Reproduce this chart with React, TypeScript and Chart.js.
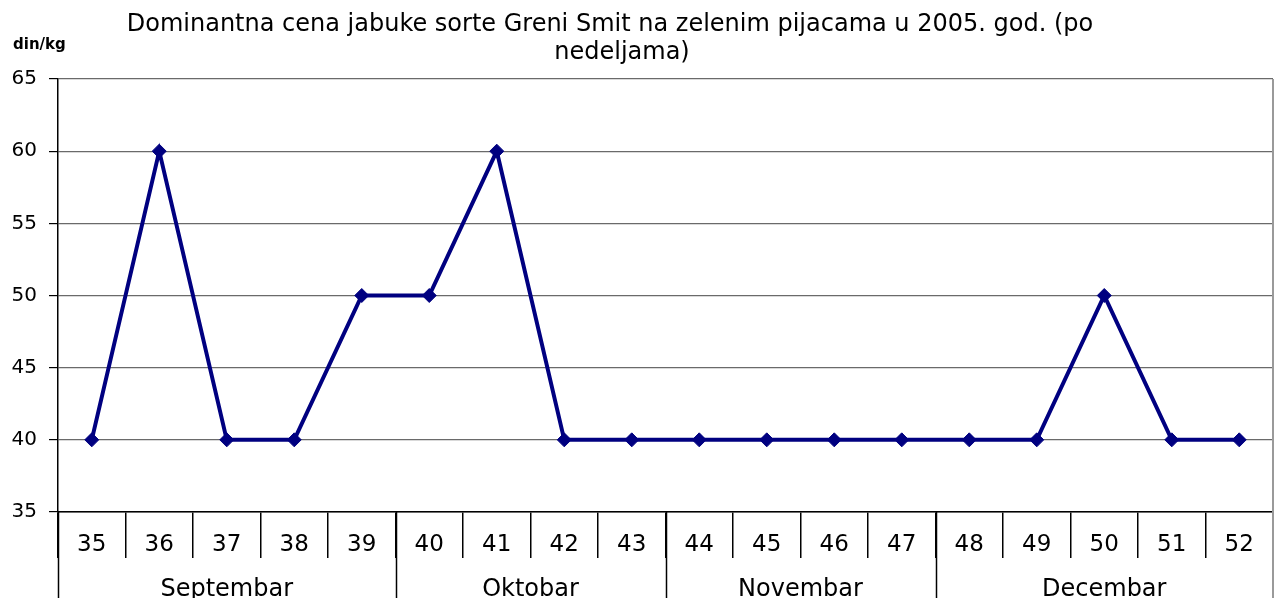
import React, { useEffect, useRef } from "react";
import { Chart, registerables } from "chart.js";

Chart.register(...registerables);

const TITLE_LINES = [
  "Dominantna cena jabuke sorte Greni Smit na zelenim pijacama u 2005. god. (po",
  "nedeljama)",
];
const Y_UNIT = "din/kg";
const WEEKS = ["35", "36", "37", "38", "39", "40", "41", "42", "43", "44", "45", "46", "47", "48", "49", "50", "51", "52"];
const PRICES = [40, 60, 40, 40, 50, 50, 60, 40, 40, 40, 40, 40, 40, 40, 40, 50, 40, 40];
const MONTHS = ["Septembar", "Oktobar", "Novembar", "Decembar"];
const MONTH_WEEK_COUNTS = [5, 4, 4, 5];
const Y_MIN = 35;
const Y_MAX = 65;
const Y_STEP = 5;

const FONT = "'DejaVu Sans', Verdana, sans-serif";

const tablePlugin = {
  id: "tablePlugin",
  afterDraw(chart: any) {
    const ctx = chart.ctx;
    const x = chart.scales.x;
    const area = chart.chartArea;
    const H = chart.height;
    ctx.save();
    const bounds: number[] = [area.left];
    let idx = 0;
    MONTH_WEEK_COUNTS.forEach((n, mi) => {
      idx += n;
      if (mi < MONTH_WEEK_COUNTS.length - 1) {
        bounds.push((x.getPixelForTick(idx - 1) + x.getPixelForTick(idx)) / 2);
      } else {
        bounds.push(area.right);
      }
    });
    ctx.strokeStyle = "#000";
    ctx.lineWidth = 1.5;
    bounds.slice(0, -1).forEach((bx) => {
      ctx.beginPath();
      ctx.moveTo(Math.round(bx) + 0.5, area.bottom);
      ctx.lineTo(Math.round(bx) + 0.5, H);
      ctx.stroke();
    });
    ctx.strokeStyle = "#9a9a9a";
    ctx.lineWidth = 2;
    ctx.beginPath();
    ctx.moveTo(area.right, area.top);
    ctx.lineTo(area.right, H);
    ctx.stroke();
    ctx.fillStyle = "#000";
    ctx.font = `24px ${FONT}`;
    ctx.textAlign = "center";
    ctx.textBaseline = "alphabetic";
    MONTHS.forEach((m, i) => {
      ctx.fillText(m, (bounds[i] + bounds[i + 1]) / 2, 596);
    });
    ctx.font = `24px ${FONT}`;
    ctx.fillText(TITLE_LINES[0], 610, 31);
    ctx.fillText(TITLE_LINES[1], 622, 59);
    ctx.textAlign = "left";
    ctx.font = `bold 15px ${FONT}`;
    ctx.fillText(Y_UNIT, 13, 49);
    ctx.restore();
  },
};

export default function App() {
  const ref = useRef<HTMLCanvasElement | null>(null);
  useEffect(() => {
    if (!ref.current) return;
    const chart = new Chart(ref.current, {
      type: "line",
      data: {
        labels: WEEKS,
        datasets: [
          {
            data: PRICES,
            borderColor: "#000080",
            backgroundColor: "#000080",
            borderWidth: 4,
            pointStyle: "rectRot",
            pointRadius: 7,
            pointBackgroundColor: "#000080",
            pointBorderColor: "#000080",
            pointBorderWidth: 1,
            tension: 0,
            fill: false,
          },
        ],
      },
      options: {
        animation: false,
        responsive: false,
        devicePixelRatio: 1,
        layout: { padding: { top: 79, right: 4, left: 0, bottom: 0 } },
        plugins: {
          legend: { display: false },
          title: { display: false },
          tooltip: { enabled: false },
        },
        scales: {
          x: {
            type: "category",
            offset: true,
            grid: {
              offset: true,
              drawOnChartArea: false,
              tickLength: 46,
              color: "#000",
              lineWidth: 1.5,
            },
            border: { color: "#000", width: 1.5 },
            ticks: {
              color: "#000",
              font: { family: FONT, size: 23 },
              padding: -27,
              maxRotation: 0,
              autoSkip: false,
            },
            afterFit: (s: any) => {
              s.height = 86;
            },
          },
          y: {
            min: Y_MIN,
            max: Y_MAX,
            ticks: {
              stepSize: Y_STEP,
              color: "#000",
              font: { family: FONT, size: 20 },
              padding: 12,
            },
            grid: {
              color: "#6a6a6a",
              lineWidth: 1.2,
              tickLength: 9,
              tickColor: "#000",
            },
            border: { color: "#000", width: 1.5 },
            afterFit: (s: any) => {
              s.width = 58;
            },
          },
        },
      },
      plugins: [tablePlugin],
    });
    return () => chart.destroy();
  }, []);
  return (
    <div style={{ position: "absolute", left: 0, top: 0, width: 1281, height: 598, background: "#fff" }}>
      <canvas ref={ref} width={1281} height={598} style={{ display: "block" }} />
    </div>
  );
}
